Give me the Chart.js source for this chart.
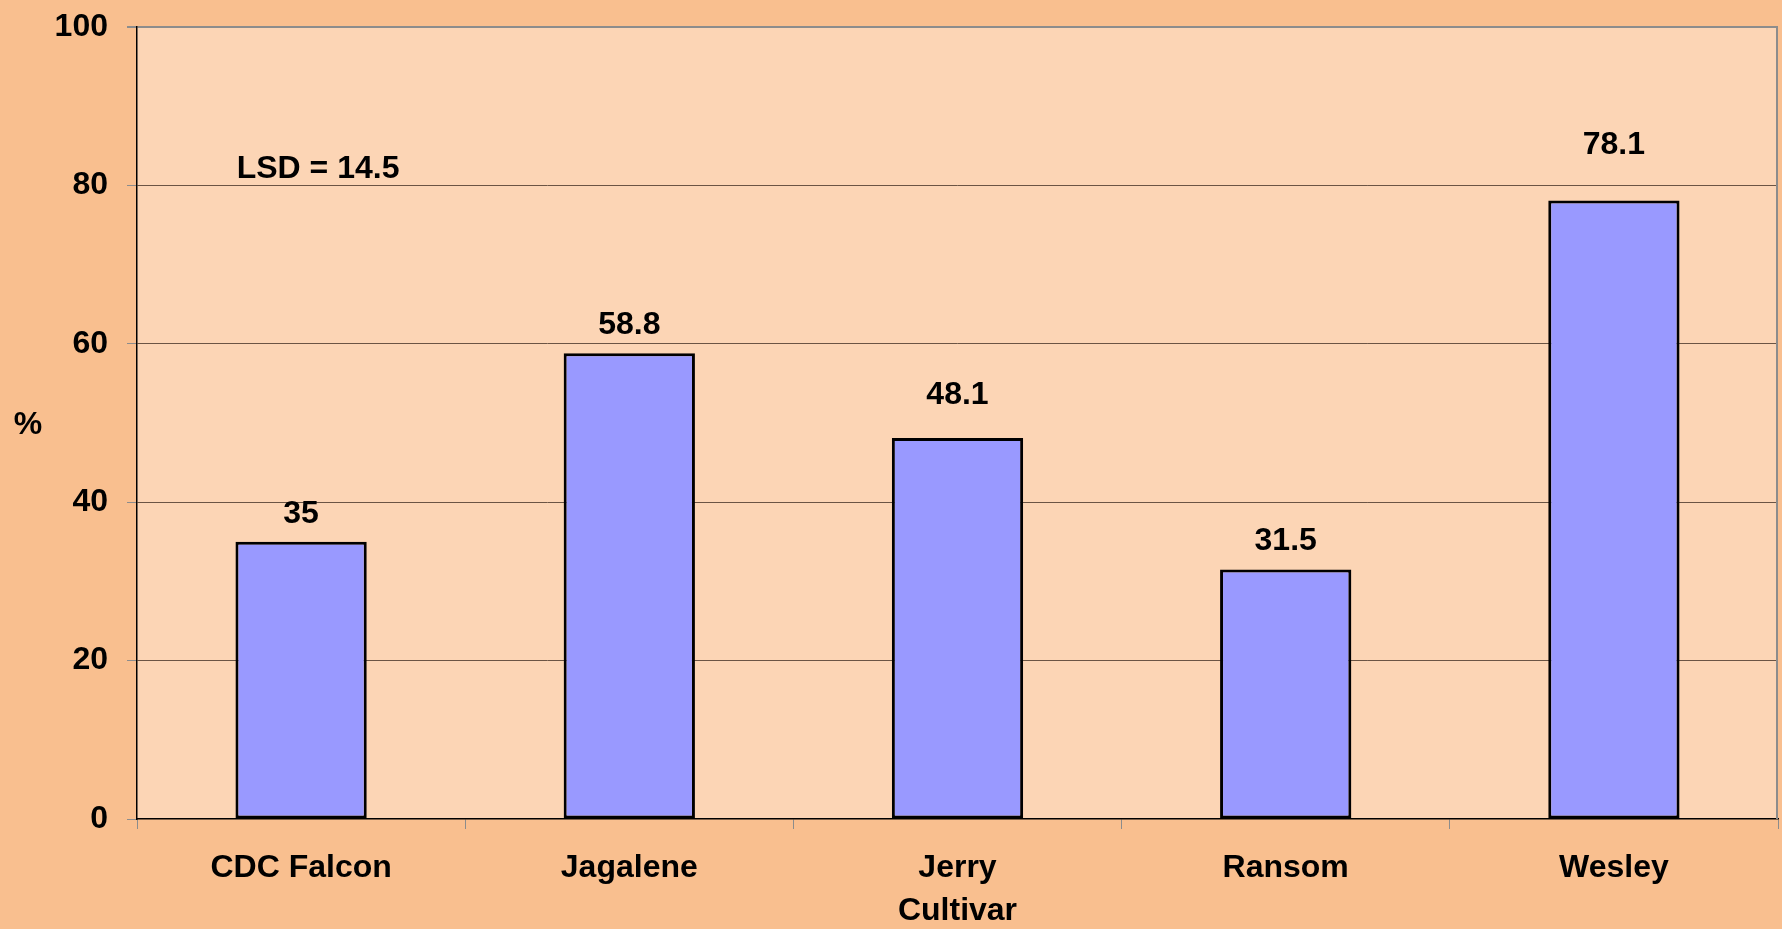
<!DOCTYPE html>
<html>
<head>
<meta charset="utf-8">
<script src="https://cdn.jsdelivr.net/npm/chart.js@4"></script>
<style>
  html, body { margin: 0; padding: 0; background: #F9BF8F; }
  #wrap { width: 1782px; height: 929px; }
</style>
</head>
<body>
<div id="wrap"><canvas id="chart"></canvas></div>
<script>
var cultivars = ["CDC Falcon", "Jagalene", "Jerry", "Ransom", "Wesley"];
var percents = [35, 58.8, 48.1, 31.5, 78.1];
var yTicks = [0, 20, 40, 60, 80, 100];
var lsdText = "LSD = 14.5";

var FONT = "Arial, 'Liberation Sans', sans-serif";

// plot background, borders, value labels, "%" and LSD note
var decor = {
  id: "decor",
  beforeDraw: function (chart) {
    var ctx = chart.ctx, a = chart.chartArea;
    ctx.save();
    ctx.fillStyle = "#FCD5B5";
    ctx.fillRect(a.left, a.top, a.right - a.left, a.bottom - a.top);
    ctx.restore();
  },
  afterDraw: function (chart) {
    var ctx = chart.ctx, a = chart.chartArea;
    var x = chart.scales.x, y = chart.scales.y;
    // the labels were nudged by hand in the original, so not all sit at the same height
    var lift = [28, 28, 43, 28, 55];
    ctx.save();
    // right border
    ctx.strokeStyle = "#8c8c8c";
    ctx.lineWidth = 2;
    ctx.beginPath();
    ctx.moveTo(a.right - 1, a.top);
    ctx.lineTo(a.right - 1, a.bottom);
    ctx.stroke();

    ctx.fillStyle = "#000";
    ctx.font = "bold 32px " + FONT;
    ctx.textAlign = "center";
    ctx.textBaseline = "middle";
    chart.getDatasetMeta(0).data.forEach(function (bar, i) {
      ctx.fillText(String(percents[i]), bar.x, bar.y - lift[i]);
    });
    ctx.fillText("%", 28, (a.top + a.bottom) / 2 + 2);
    ctx.fillText(lsdText, x.getPixelForValue(0) + 17, y.getPixelForValue(82));
    ctx.restore();
  }
};

new Chart(document.getElementById("chart"), {
  type: "bar",
  data: {
    labels: cultivars,
    datasets: [{
      data: percents,
      backgroundColor: "#9999FF",
      borderColor: "#000000",
      borderWidth: 3,
      borderSkipped: false,
      barPercentage: 0.4,
      categoryPercentage: 1
    }]
  },
  options: {
    responsive: true,
    maintainAspectRatio: false,
    animation: false,
    layout: { padding: { top: 22, right: 4, left: 0, bottom: 0 } },
    plugins: { legend: { display: false }, tooltip: { enabled: false } },
    scales: {
      x: {
        grid: {
          offset: true,
          drawOnChartArea: false,
          drawTicks: true,
          tickLength: 10,
          tickColor: "#8c8c8c"
        },
        border: { display: true, color: "#000", width: 1.5 },
        ticks: {
          color: "#000",
          font: { family: FONT, size: 32, weight: "bold" },
          padding: 20,
          maxRotation: 0
        },
        title: {
          display: true,
          text: "Cultivar",
          color: "#000",
          font: { family: FONT, size: 32, weight: "bold", lineHeight: 1.1 },
          padding: 0
        },
        afterFit: function (s) { s.height = 110; }
      },
      y: {
        min: 0,
        max: 100,
        afterBuildTicks: function (s) {
          s.ticks = yTicks.map(function (v) { return { value: v }; });
        },
        grid: {
          color: function (c) {
            if (c.tick && c.tick.value === 100) return "#8c8c8c";
            if (c.tick && c.tick.value === 0) return "rgba(0,0,0,0)";
            return "#6b5444";
          },
          lineWidth: function (c) {
            return c.tick && c.tick.value === 100 ? 2 : 1;
          },
          tickLength: 10,
          tickColor: "#8c8c8c"
        },
        border: { display: true, color: "#000", width: 1.5 },
        ticks: {
          color: "#000",
          font: { family: FONT, size: 32, weight: "bold", lineHeight: 0.5 },
          padding: 19
        },
        afterFit: function (s) { s.width = 137; }
      }
    }
  },
  plugins: [decor]
});
</script>
</body>
</html>
